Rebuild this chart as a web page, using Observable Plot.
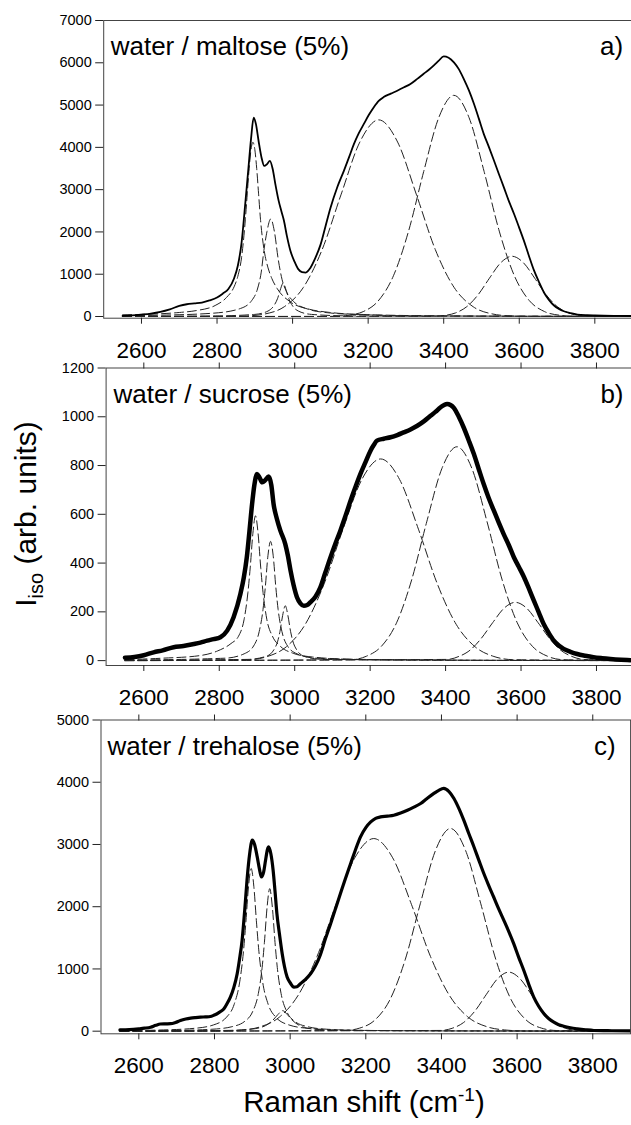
<!DOCTYPE html>
<html><head><meta charset="utf-8">
<script src="https://cdn.jsdelivr.net/npm/d3@7"></script>
<script src="https://cdn.jsdelivr.net/npm/@observablehq/plot@0.6"></script>
<style>
html,body{margin:0;padding:0;background:#fff;overflow:hidden;}
#wrap{position:relative;width:631px;height:1125px;overflow:hidden;font-family:"Liberation Sans",Arial,sans-serif;}
#wrap svg{position:absolute;left:0;}
</style></head><body><div id="wrap"></div>
<script>
// ---------- shared ----------
const xTicks = [2600, 2800, 3000, 3200, 3400, 3600, 3800];
const maltoseYTicks = [0, 1000, 2000, 3000, 4000, 5000, 6000, 7000];
const sucroseYTicks = [0, 200, 400, 600, 800, 1000, 1200];
const trehaloseYTicks = [0, 1000, 2000, 3000, 4000, 5000];
const panelTitles = ["water / maltose (5%)", "water / sucrose (5%)", "water / trehalose (5%)"];
const panelTags = ["a)", "b)", "c)"];

// ---------- panel a: maltose ----------
const maltoseShift = [2550,2575,2600,2625,2650,2675,2700,2720,2740,2760,2780,2800,2815,2830,2845,2855,2865,2875,2883,2890,2897,2903,2910,2918,2925,2932,2940,2947,2955,2963,2970,2977,2985,2994,3005,3015,3025,3035,3047,3060,3074,3087,3100,3118,3136,3150,3162,3175,3189,3202,3215,3228,3241,3260,3277,3295,3312,3330,3347,3360,3374,3387,3400,3413,3427,3440,3453,3467,3480,3493,3506,3520,3533,3546,3559,3572,3586,3599,3612,3625,3639,3652,3665,3678,3692,3705,3718,3736,3754,3780,3800,3850,3900];
const maltoseTotal = [15,25,45,70,110,170,250,290,310,330,380,450,540,650,900,1200,1750,2700,3500,4200,4700,4550,4150,3750,3560,3600,3680,3500,3100,2740,2500,2270,1900,1560,1300,1120,1050,1040,1150,1380,1700,2130,2560,3050,3450,3780,4070,4330,4560,4770,4950,5100,5190,5270,5340,5420,5500,5620,5740,5830,5940,6050,6150,6120,6010,5850,5620,5340,5030,4680,4320,4000,3690,3370,3060,2740,2430,2120,1800,1450,1090,820,575,400,260,180,125,80,47,30,24,15,12];
const maltoseBand3228 = [[2550,0],[2828,2],[2878,13],[2928,62],[2978,231],[3028,681],[3078,1577],[3128,2876],[3178,4125],[3228,4650],[3278,4125],[3328,2876],[3378,1577],[3428,681],[3478,231],[3528,62],[3578,13],[3628,2],[3900,0]];
const maltoseBand3427 = [[2550,0],[3107,2],[3147,30],[3187,116],[3227,372],[3267,964],[3307,2020],[3347,3427],[3387,4705],[3427,5230],[3467,4705],[3507,3427],[3547,2020],[3587,964],[3627,372],[3667,116],[3707,30],[3747,5],[3900,0]];
const maltoseBand3581 = [[2550,0],[3371,4],[3401,24],[3431,84],[3461,232],[3491,514],[3521,905],[3551,1272],[3581,1425],[3611,1272],[3641,905],[3671,514],[3701,232],[3731,84],[3761,24],[3791,4],[3900,0]];
const maltoseBand2895 = [[2550,40],[2600,50],[2650,65],[2700,95],[2745,140],[2795,260],[2825,450],[2845,700],[2855,950],[2865,1400],[2875,2300],[2880,2900],[2885,3500],[2890,3950],[2895,4120],[2900,3950],[2905,3500],[2910,2900],[2915,2300],[2925,1550],[2935,1150],[2945,900],[2960,650],[2995,340],[3045,170],[3095,100],[3195,45],[3400,15],[3900,3]];
const maltoseBand2942 = [[2550,20],[2642,30],[2792,80],[2862,190],[2892,380],[2907,650],[2917,1050],[2924,1560],[2932,2000],[2942,2310],[2952,2000],[2962,1350],[2972,880],[2982,620],[3002,360],[3042,170],[3092,90],[3192,40],[3342,15],[3900,3]];
const maltoseBand2975 = [[2550,5],[2800,15],[2900,50],[2935,130],[2950,250],[2960,420],[2967,620],[2975,790],[2983,620],[2990,420],[3000,250],[3015,130],[3050,50],[3150,15],[3900,2]];

// ---------- panel b: sucrose ----------
const sucroseShift = [2550,2575,2600,2626,2650,2679,2705,2732,2750,2768,2785,2803,2821,2838,2856,2865,2873,2880,2887,2893,2900,2907,2914,2922,2931,2938,2944,2953,2962,2975,2982,2989,2997,3006,3015,3024,3033,3042,3055,3068,3081,3095,3108,3121,3135,3148,3161,3174,3188,3201,3210,3218,3236,3254,3272,3289,3307,3325,3343,3360,3373,3386,3395,3404,3413,3421,3435,3448,3461,3475,3488,3501,3514,3528,3541,3554,3568,3581,3594,3608,3621,3634,3647,3660,3674,3687,3700,3713,3731,3749,3770,3792,3815,3837,3865,3890];
const sucroseTotal = [12,15,22,34,42,55,60,68,74,82,88,96,123,178,273,340,424,530,642,720,765,750,731,740,755,720,642,580,533,478,430,369,310,260,235,225,228,240,262,300,360,424,480,533,595,656,712,765,815,861,885,902,910,916,925,936,948,963,982,1004,1020,1038,1047,1052,1048,1038,1000,956,905,847,785,724,668,615,566,519,472,424,385,342,295,246,198,150,112,82,62,48,36,27,20,14,10,7,4,2];
const sucroseBand3228 = [[2550,0],[2878,4],[2928,17],[2978,57],[3028,149],[3078,315],[3128,539],[3178,743],[3228,827],[3278,743],[3328,539],[3378,315],[3428,149],[3478,57],[3528,17],[3578,4],[3900,0]];
const sucroseBand3430 = [[2550,0],[3150,4],[3190,18],[3230,59],[3270,155],[3310,331],[3350,569],[3390,787],[3430,877],[3470,787],[3510,569],[3550,331],[3590,155],[3630,59],[3670,18],[3710,4],[3900,0]];
const sucroseBand3585 = [[2550,0],[3405,5],[3435,17],[3465,43],[3495,92],[3525,156],[3555,215],[3585,239],[3615,215],[3645,156],[3675,92],[3705,43],[3735,17],[3765,5],[3900,0]];
const sucroseBand2896 = [[2550,4],[2650,10],[2746,20],[2796,40],[2831,70],[2851,100],[2866,170],[2876,280],[2882,380],[2889,520],[2896,594],[2903,520],[2910,380],[2916,280],[2926,170],[2941,100],[2961,60],[2996,30],[3046,15],[3146,6],[3400,2],[3900,0]];
const sucroseBand2936 = [[2550,2],[2816,10],[2866,28],[2891,60],[2906,120],[2916,210],[2922,300],[2929,430],[2936,489],[2943,430],[2950,300],[2956,210],[2966,120],[2981,60],[3006,28],[3056,10],[3300,2],[3900,0]];
const sucroseBand2975 = [[2550,1],[2875,5],[2925,18],[2945,45],[2955,80],[2961,120],[2968,185],[2975,225],[2982,185],[2989,120],[2995,80],[3005,45],[3025,18],[3075,5],[3900,0]];

// ---------- panel c: trehalose ----------
const trehaloseShift = [2550,2575,2600,2615,2631,2645,2657,2670,2684,2697,2710,2724,2737,2750,2763,2776,2789,2798,2807,2816,2825,2833,2842,2851,2860,2866,2873,2880,2886,2893,2900,2906,2913,2919,2924,2930,2935,2940,2943,2949,2955,2960,2965,2972,2979,2985,2992,3001,3010,3018,3027,3040,3054,3067,3080,3093,3107,3120,3133,3146,3160,3173,3186,3200,3213,3226,3239,3257,3274,3292,3310,3327,3345,3362,3380,3393,3406,3420,3433,3446,3459,3472,3486,3499,3512,3525,3538,3551,3565,3578,3591,3604,3618,3631,3644,3657,3671,3684,3697,3710,3723,3741,3759,3781,3803,3850,3900];
const trehaloseTotal = [20,25,38,48,64,95,115,118,120,140,172,195,209,218,225,230,236,255,280,315,360,440,547,700,924,1150,1460,1950,2426,2850,3070,3000,2800,2600,2478,2560,2747,2920,2960,2850,2586,2250,1889,1550,1245,1040,869,770,708,715,763,830,924,1050,1230,1480,1728,1970,2211,2450,2694,2920,3122,3270,3363,3420,3443,3455,3470,3505,3550,3600,3659,3740,3820,3870,3900,3850,3739,3580,3390,3180,2960,2745,2533,2340,2156,1970,1781,1600,1406,1190,971,750,547,400,280,200,145,105,80,55,38,22,11,7,5];
const trehaloseBand3221 = [[2550,0],[2821,4],[2871,18],[2921,70],[2971,223],[3021,575],[3071,1200],[3121,2032],[3171,2786],[3221,3095],[3271,2786],[3321,2032],[3371,1200],[3421,575],[3471,223],[3521,70],[3571,18],[3621,4],[3900,0]];
const trehaloseBand3424 = [[2550,0],[3144,11],[3184,50],[3224,179],[3264,508],[3304,1146],[3344,2047],[3384,2900],[3424,3257],[3464,2900],[3504,2047],[3544,1146],[3584,508],[3624,179],[3664,50],[3704,11],[3900,0]];
const trehaloseBand3578 = [[2550,0],[3398,12],[3428,46],[3458,137],[3488,320],[3518,585],[3548,841],[3578,949],[3608,841],[3638,585],[3668,320],[3698,137],[3728,46],[3758,12],[3900,0]];
const trehaloseBand2897 = [[2550,8],[2647,17],[2747,46],[2797,100],[2832,226],[2852,431],[2867,804],[2877,1307],[2883,1753],[2890,2328],[2897,2613],[2904,2328],[2911,1753],[2917,1307],[2927,804],[2942,431],[2962,226],[2997,100],[3047,46],[3147,17],[3400,5],[3900,1]];
const trehaloseBand2946 = [[2550,5],[2696,12],[2796,32],[2846,72],[2881,163],[2901,316],[2916,606],[2926,1025],[2932,1427],[2939,1990],[2946,2291],[2953,1990],[2960,1427],[2966,1025],[2976,606],[2991,316],[3011,163],[3046,72],[3096,32],[3196,12],[3500,3],[3900,1]];
const trehaloseBand2980 = [[2550,1],[2830,12],[2900,35],[2935,90],[2955,180],[2968,270],[2980,330],[2992,270],[3005,180],[3025,90],[3060,35],[3130,12],[3900,1]];

const FONT = '"Liberation Sans", Arial, sans-serif';
const wrap = document.getElementById("wrap");

function panel(cfg) {
  const total = cfg.shift.map((x, i) => ({x, y: cfg.total[i]}));
  const bands = cfg.bands.map(b => b.map(([x, y]) => ({x, y})));
  const marks = [
    ...bands.map(b => Plot.line(b, {x: "x", y: "y", curve: "monotone-x", stroke: "#222", strokeWidth: 1, strokeDasharray: "9,4"})),
    Plot.line(total, {x: "x", y: "y", curve: "monotone-x", stroke: "#000", strokeWidth: cfg.sw, strokeLinejoin: "round", strokeLinecap: "round"}),
    Plot.frame({stroke: "#444", strokeWidth: 1}),
    Plot.axisY({ticks: cfg.yTicks, tickSize: 8, tickPadding: 4, fontSize: 14.5, label: null, tickFormat: d => String(d), stroke: "#222"}),
    Plot.axisX({anchor: "bottom", ticks: xTicks, tickSize: 6, tickPadding: 17.6, fontSize: 22.5, label: null, tickFormat: d => String(d), stroke: "#222"}),
    Plot.text([cfg.title], {text: d => d, frameAnchor: "top-left", textAnchor: "start", lineAnchor: "top", dx: cfg.tdx, dy: cfg.tdy, fontSize: 26, fill: "#000"}),
    Plot.text([cfg.tag], {text: d => d, frameAnchor: "top-right", textAnchor: "end", lineAnchor: "top", dx: cfg.gdx, dy: cfg.tdy, fontSize: 26, fill: "#000"})
  ];
  if (cfg.topTicks) marks.push(Plot.axisX({anchor: "top", ticks: xTicks, tickSize: 6, label: null, tickFormat: () => "", stroke: "#222"}));
  const svg = Plot.plot({
    width: 640, height: cfg.height,
    marginTop: cfg.mt, marginBottom: cfg.mb, marginLeft: cfg.ml, marginRight: cfg.mr,
    x: {domain: [2500, 3900]},
    y: {domain: cfg.yDomain},
    style: {background: "transparent", maxWidth: "none", overflow: "visible", fontFamily: FONT, color: "#000"},
    marks
  });
  svg.style.top = cfg.top + "px";
  wrap.appendChild(svg);
}

panel({top: 0, height: 365, mt: 20, mb: 47.3, ml: 103.2, mr: 7.9, yDomain: [-40, 7000], yTicks: maltoseYTicks,
  shift: maltoseShift, total: maltoseTotal, sw: 1.8,
  bands: [maltoseBand3228, maltoseBand3427, maltoseBand3581, maltoseBand2895, maltoseBand2942, maltoseBand2975],
  title: panelTitles[0], tag: panelTags[0], tdx: 7, tdy: 16, gdx: -9.5, topTicks: false});

panel({top: 340, height: 372, mt: 27.5, mb: 47, ml: 105.6, mr: 6.3, yDomain: [-20, 1200], yTicks: sucroseYTicks,
  shift: sucroseShift, total: sucroseTotal, sw: 4.5,
  bands: [sucroseBand3228, sucroseBand3430, sucroseBand3585, sucroseBand2896, sucroseBand2936, sucroseBand2975],
  title: panelTitles[1], tag: panelTags[1], tdx: 7.4, tdy: 17, gdx: -10.7, topTicks: true});

panel({top: 695, height: 385, mt: 24.5, mb: 46.7, ml: 100.5, mr: 9.9, yDomain: [-42, 5000], yTicks: trehaloseYTicks,
  shift: trehaloseShift, total: trehaloseTotal, sw: 3.2,
  bands: [trehaloseBand3221, trehaloseBand3424, trehaloseBand3578, trehaloseBand2897, trehaloseBand2946, trehaloseBand2980],
  title: panelTitles[2], tag: panelTags[2], tdx: 6.5, tdy: 17, gdx: -15, topTicks: true});

// axis titles (overlay)
const ov = d3.select(wrap).append("svg").attr("width", 631).attr("height", 1125)
  .style("top", "0px").style("pointer-events", "none").style("font-family", FONT);
const yl = ov.append("text").attr("transform", "translate(36,514) rotate(-90)")
  .attr("text-anchor", "middle").attr("font-size", 30).attr("fill", "#000");
yl.append("tspan").text("I");
yl.append("tspan").attr("dy", 7).attr("font-size", 20).text("iso");
yl.append("tspan").attr("dy", -7).text(" (arb. units)");
const xl = ov.append("text").attr("x", 364).attr("y", 1112)
  .attr("text-anchor", "middle").attr("font-size", 29.5).attr("fill", "#000");
xl.append("tspan").text("Raman shift (cm");
xl.append("tspan").attr("dy", -11).attr("font-size", 19).text("-1");
xl.append("tspan").attr("dy", 11).text(")");
</script></body></html>
